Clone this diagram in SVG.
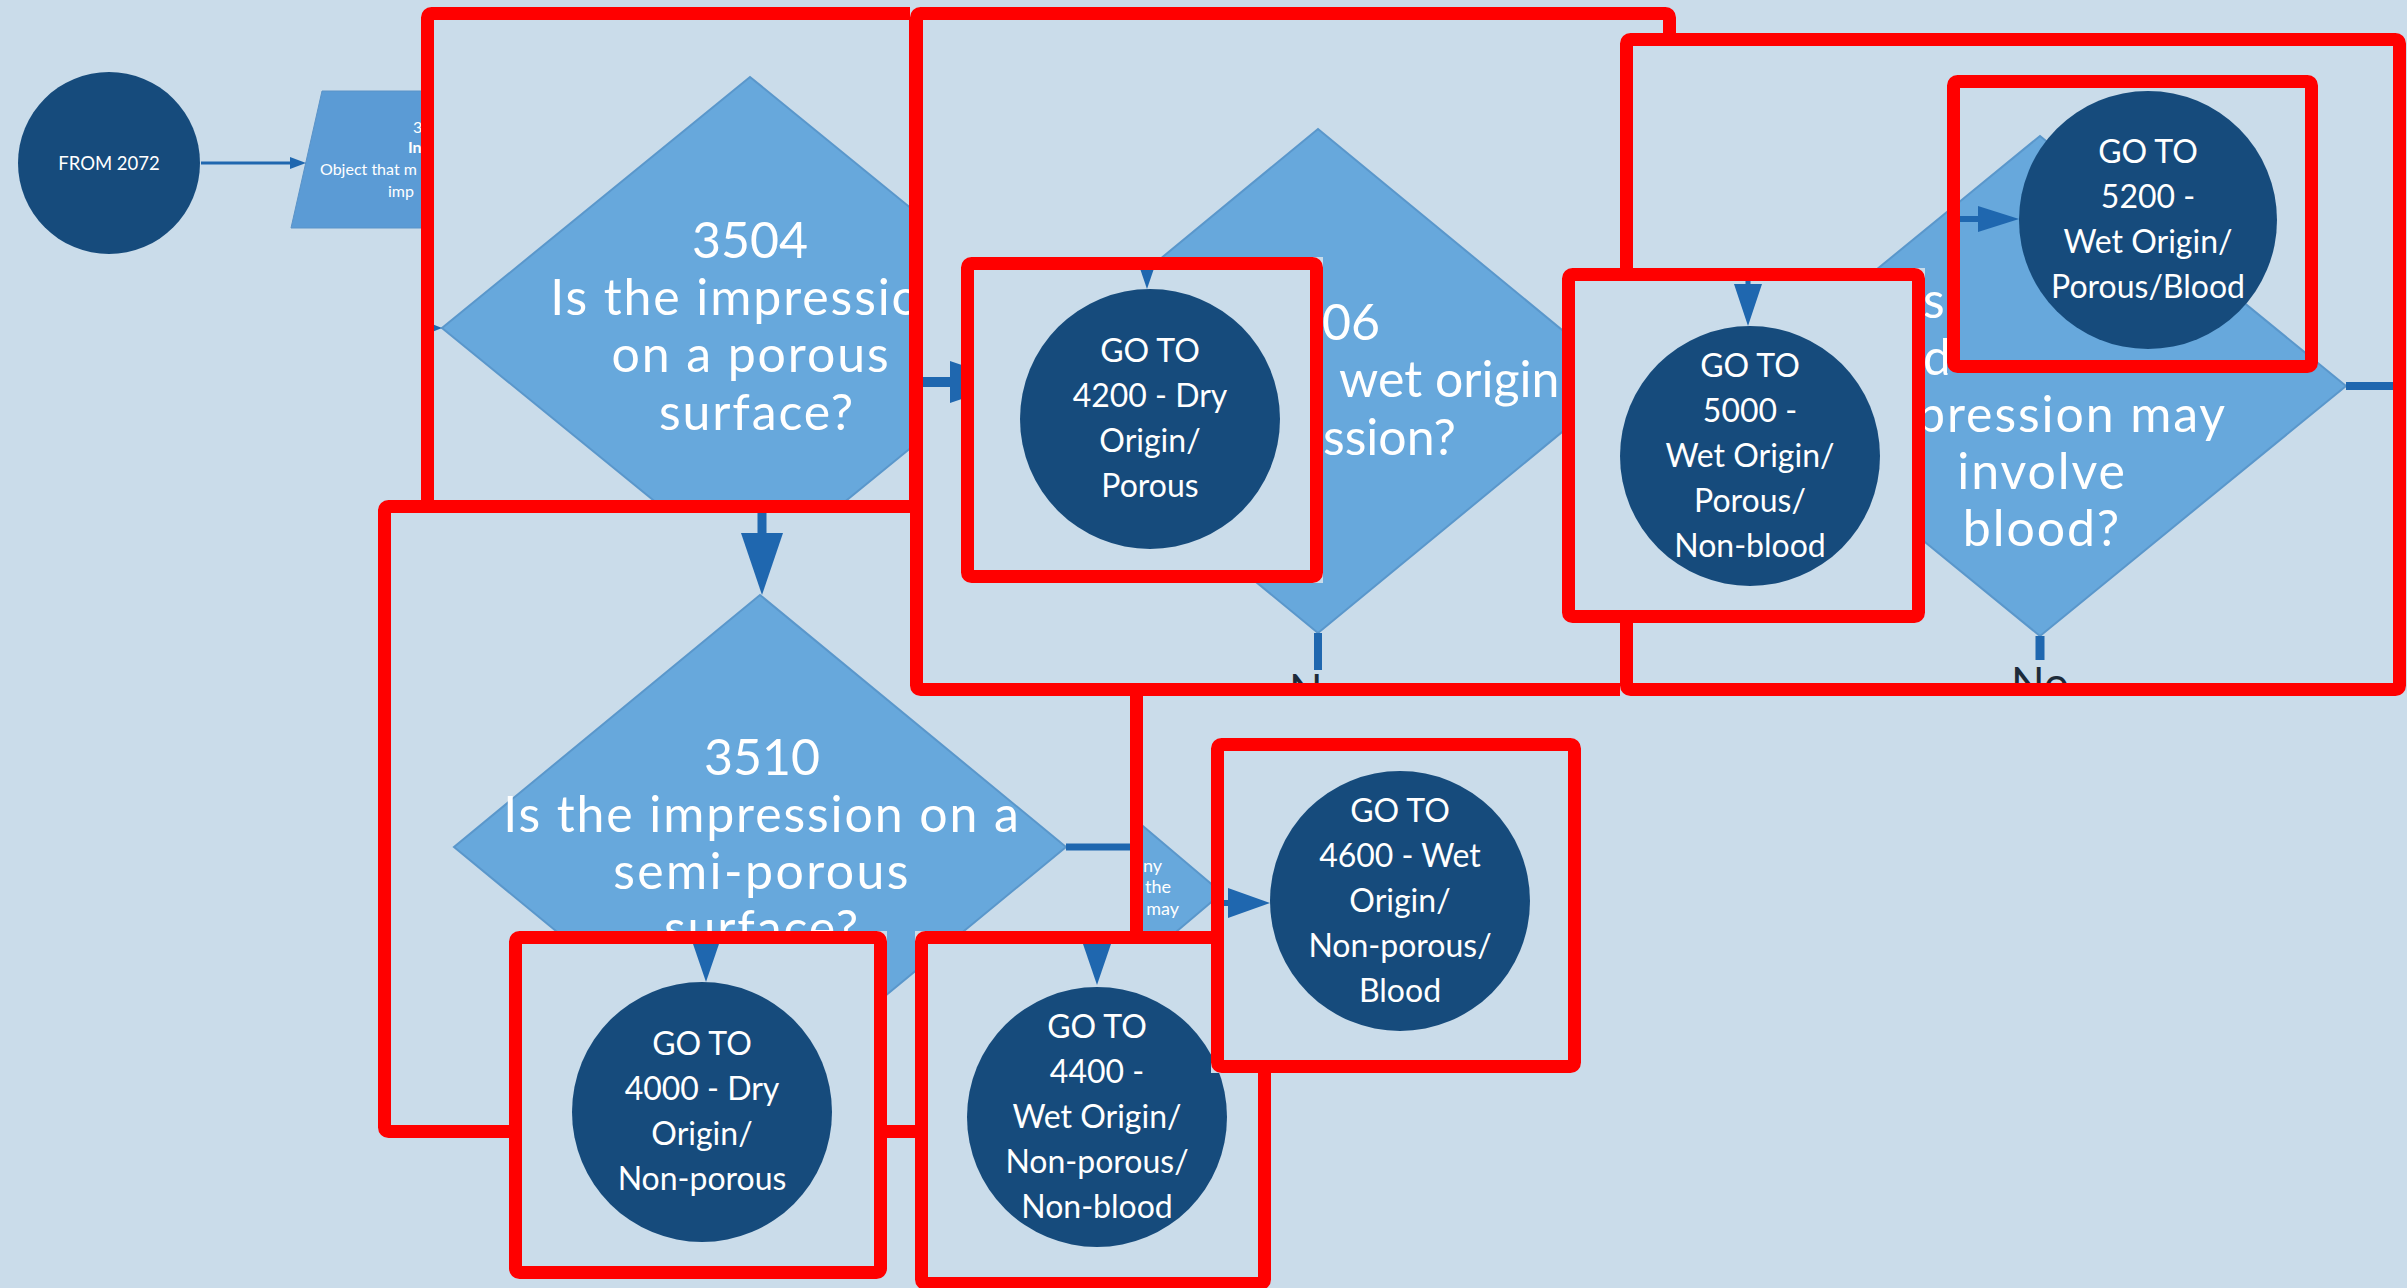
<svg xmlns="http://www.w3.org/2000/svg" width="2407" height="1288" viewBox="0 0 2407 1288">
<style>
.bg{fill:#CADCEA}
.dia{fill:#67A8DC;stroke:#5A97CB;stroke-width:2}
.trap{fill:#5B9BD5;stroke:#5A93C8;stroke-width:1}
.circ{fill:#164B7C}
.ln{stroke:#1F67AF;fill:none}
.ah{fill:#1F67AF}
.red{fill:none;stroke:#FF0000;stroke-width:13}
.t{font-family:Lato,"Noto Sans",sans-serif;fill:#FFFFFF}
.tc{font-family:Lato,"Noto Sans",sans-serif;fill:#FFFFFF;font-size:32px;text-anchor:middle}
.td{font-family:Lato,"Noto Sans",sans-serif;fill:#FFFFFF;font-size:50px}
.wide{letter-spacing:1.9px}
.no{font-family:Lato,"Noto Sans",sans-serif;fill:#1D2B3A;font-size:44px;text-anchor:middle}
</style>
<defs>
<clipPath id="cA"><rect x="421" y="7" width="501" height="506"/></clipPath>
<clipPath id="cB"><rect x="910" y="7" width="766" height="689"/></clipPath>
<clipPath id="cC"><rect x="378" y="500" width="765" height="638"/></clipPath>
<clipPath id="cD"><rect x="1620" y="33" width="786" height="663"/></clipPath>
<clipPath id="cE"><rect x="961" y="257" width="362" height="326"/></clipPath>
<clipPath id="cF"><rect x="1562" y="268" width="363" height="355"/></clipPath>
<clipPath id="cG"><rect x="1947" y="75" width="371" height="298"/></clipPath>
<clipPath id="cH"><rect x="509" y="931" width="378" height="348"/></clipPath>
<clipPath id="cI"><rect x="915" y="931" width="356" height="359"/></clipPath>
<clipPath id="cJ"><rect x="1211" y="738" width="370" height="335"/></clipPath>
</defs>
<rect class="bg" x="0" y="0" width="2407" height="1288"/>

<g id="base">
  <g id="from2072">
    <circle class="circ" cx="109" cy="163" r="91"/>
    <text class="t" x="109" y="170" font-size="18.5" text-anchor="middle">FROM 2072</text>
  </g>
  <g id="trapezoid">
    <polygon class="trap" points="322,91 700,91 700,228 291,228"/>
    <text class="t" x="413" y="133" font-size="16">3</text>
    <text class="t" x="408" y="153" font-size="16" font-weight="bold">In</text>
    <text class="t" x="320" y="175" font-size="16">Object that m</text>
    <text class="t" x="388" y="197" font-size="16">imp</text>
  </g>
  <g id="small-diamond">
    <polygon class="dia" points="1222,893 1124,810 1026,893 1124,976"/>
    <text class="t" x="1162" y="872" font-size="18" text-anchor="end">ny</text>
    <text class="t" x="1171" y="893" font-size="18" text-anchor="end">the</text>
    <text class="t" x="1179" y="915" font-size="18" text-anchor="end">may</text>
  </g>
  <g id="base-connectors">
    <line class="ln" x1="201" y1="163" x2="292" y2="163" stroke-width="3"/>
    <polygon class="ah" points="290,157 306,163 290,169"/>
  </g>
</g>

<g id="box-3504">
  <g clip-path="url(#cA)">
    <rect class="bg" x="421" y="7" width="501" height="506"/>
    <polygon class="dia" points="750,77 1058,328 750,579 442,328"/>
    <polygon class="ah" points="432,324 442,328 432,332"/>
    <text class="td" x="750" y="258" text-anchor="middle">3504</text>
    <text class="td wide" x="751" y="315" text-anchor="middle">Is the impression</text>
    <text class="td wide" x="751" y="372" text-anchor="middle">on a porous</text>
    <text class="td wide" x="757" y="430" text-anchor="middle">surface?</text>
  </g>
  <rect class="red" x="427.5" y="13.5" width="488" height="493" rx="4"/>
</g>

<g id="box-3510">
  <g clip-path="url(#cC)">
    <rect class="bg" x="378" y="500" width="765" height="638"/>
    <polygon class="dia" points="760,595 1066,847 760,1099 454,847"/>
    <g class="connectors">
      <line class="ln" x1="762" y1="500" x2="762" y2="540" stroke-width="9"/>
      <polygon class="ah" points="741,533 783,533 762,595"/>
      <line class="ln" x1="1066" y1="847" x2="1143" y2="847" stroke-width="7"/>
    </g>
    <text class="td" x="762" y="775" text-anchor="middle">3510</text>
    <text class="td wide" x="762" y="832" text-anchor="middle">Is the impression on a</text>
    <text class="td" x="762" y="889" text-anchor="middle" letter-spacing="2.4">semi-porous</text>
    <text class="td wide" x="762" y="946" text-anchor="middle">surface?</text>
  </g>
  <rect class="red" x="384.5" y="506.5" width="752" height="625" rx="4"/>
</g>

<g id="box-3506">
  <g clip-path="url(#cB)">
    <rect class="bg" x="910" y="7" width="766" height="689"/>
    <polygon class="dia" points="1318,129 1624,381 1318,633 1012,381"/>
    <g class="connectors">
      <line class="ln" x1="910" y1="382" x2="952" y2="382" stroke-width="10"/>
      <polygon class="ah" points="950,361 1012,382 950,403"/>
      <line class="ln" x1="1318" y1="633" x2="1318" y2="670" stroke-width="8"/>
    </g>
    <text class="td" x="1322" y="340">06</text>
    <text class="td" x="1339" y="397">wet origin</text>
    <text class="td" x="1323" y="455">ssion?</text>
    <text class="no" x="1318" y="706">No</text>
  </g>
  <rect class="red" x="916.5" y="13.5" width="753" height="676" rx="4"/>
</g>

<g id="box-4200">
  <g clip-path="url(#cE)">
    <rect class="bg" x="961" y="257" width="362" height="326"/>
    <polygon class="ah" points="1133,248 1161,248 1147,289"/>
    <circle class="circ" cx="1150" cy="419" r="130"/>
    <text class="tc" x="1150" y="362">GO TO</text>
    <text class="tc" x="1150" y="407">4200 - Dry</text>
    <text class="tc" x="1150" y="452">Origin/</text>
    <text class="tc" x="1150" y="497">Porous</text>
  </g>
  <rect class="red" x="967.5" y="263.5" width="349" height="313" rx="4"/>
</g>

<g id="box-5200q">
  <g clip-path="url(#cD)">
    <rect class="bg" x="1620" y="33" width="786" height="663"/>
    <polygon class="dia" points="2040,136 2346,386 2040,636 1734,386"/>
    <g class="connectors">
      <line class="ln" x1="2346" y1="386" x2="2406" y2="386" stroke-width="8"/>
      <line class="ln" x1="2040" y1="636" x2="2040" y2="660" stroke-width="9"/>
    </g>
    <text class="td" x="1923" y="318">s</text>
    <text class="td" x="1923" y="375">d</text>
    <text class="td wide" x="2227" y="432" text-anchor="end">pression may</text>
    <text class="td wide" x="2042" y="489" text-anchor="middle">involve</text>
    <text class="td wide" x="2042" y="546" text-anchor="middle">blood?</text>
    <text class="no" x="2040" y="699">No</text>
  </g>
  <rect class="red" x="1626.5" y="39.5" width="773" height="650" rx="4"/>
</g>

<g id="box-5000">
  <g clip-path="url(#cF)">
    <rect class="bg" x="1562" y="268" width="363" height="355"/>
    <line class="ln" x1="1748" y1="268" x2="1748" y2="290" stroke-width="5"/>
    <polygon class="ah" points="1734,284 1762,284 1748,326"/>
    <circle class="circ" cx="1750" cy="456" r="130"/>
    <text class="tc" x="1750" y="377">GO TO</text>
    <text class="tc" x="1750" y="422">5000 -</text>
    <text class="tc" x="1750" y="467">Wet Origin/</text>
    <text class="tc" x="1750" y="512">Porous/</text>
    <text class="tc" x="1750" y="557">Non-blood</text>
  </g>
  <rect class="red" x="1568.5" y="274.5" width="350" height="342" rx="4"/>
</g>

<g id="box-5200">
  <g clip-path="url(#cG)">
    <rect class="bg" x="1947" y="75" width="371" height="298"/>
    <polygon class="dia" points="2040,136 2346,386 2040,636 1734,386"/>
    <line class="ln" x1="1947" y1="219" x2="1980" y2="219" stroke-width="6"/>
    <polygon class="ah" points="1978,206 2019,219 1978,232"/>
    <circle class="circ" cx="2148" cy="220" r="129"/>
    <text class="tc" x="2148" y="163">GO TO</text>
    <text class="tc" x="2148" y="208">5200 -</text>
    <text class="tc" x="2148" y="253">Wet Origin/</text>
    <text class="tc" x="2148" y="298">Porous/Blood</text>
  </g>
  <rect class="red" x="1953.5" y="81.5" width="358" height="285" rx="4"/>
</g>

<g id="box-4000">
  <g clip-path="url(#cH)">
    <rect class="bg" x="509" y="931" width="378" height="348"/>
    <polygon class="ah" points="692,941 720,941 706,982"/>
    <circle class="circ" cx="702" cy="1112" r="130"/>
    <text class="tc" x="702" y="1055">GO TO</text>
    <text class="tc" x="702" y="1100">4000 - Dry</text>
    <text class="tc" x="702" y="1145">Origin/</text>
    <text class="tc" x="702" y="1190">Non-porous</text>
  </g>
  <rect class="red" x="515.5" y="937.5" width="365" height="335" rx="4"/>
</g>

<g id="box-4400">
  <g clip-path="url(#cI)">
    <rect class="bg" x="915" y="931" width="356" height="359"/>
    <polygon class="ah" points="1083,944 1111,944 1097,985"/>
    <circle class="circ" cx="1097" cy="1117" r="130"/>
    <text class="tc" x="1097" y="1038">GO TO</text>
    <text class="tc" x="1097" y="1083">4400 -</text>
    <text class="tc" x="1097" y="1128">Wet Origin/</text>
    <text class="tc" x="1097" y="1173">Non-porous/</text>
    <text class="tc" x="1097" y="1218">Non-blood</text>
  </g>
  <rect class="red" x="921.5" y="937.5" width="343" height="346" rx="4"/>
</g>

<g id="box-4600">
  <g clip-path="url(#cJ)">
    <rect class="bg" x="1211" y="738" width="370" height="335"/>
    <line class="ln" x1="1211" y1="903" x2="1230" y2="903" stroke-width="6"/>
    <polygon class="ah" points="1228,888 1270,903 1228,918"/>
    <circle class="circ" cx="1400" cy="901" r="130"/>
    <text class="tc" x="1400" y="822">GO TO</text>
    <text class="tc" x="1400" y="867">4600 - Wet</text>
    <text class="tc" x="1400" y="912">Origin/</text>
    <text class="tc" x="1400" y="957">Non-porous/</text>
    <text class="tc" x="1400" y="1002">Blood</text>
  </g>
  <rect class="red" x="1217.5" y="744.5" width="357" height="322" rx="4"/>
</g>
</svg>
